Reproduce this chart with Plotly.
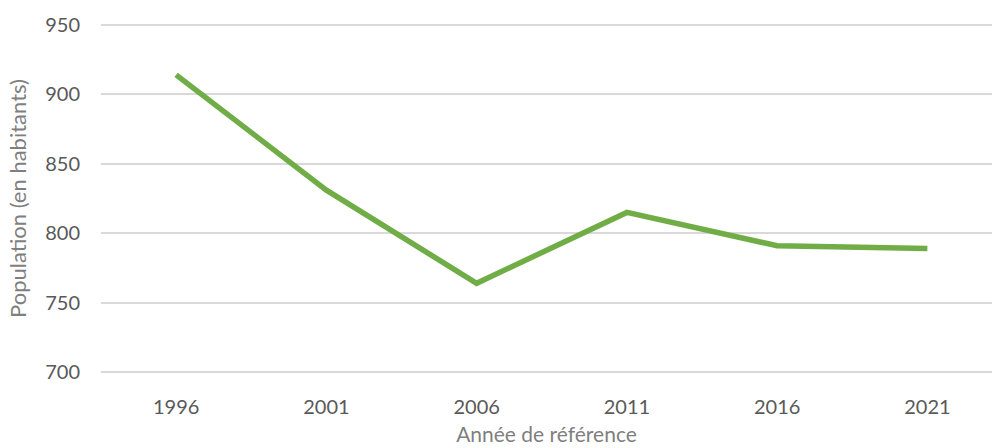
import plotly.graph_objects as go

years = ["1996", "2001", "2006", "2011", "2016", "2021"]
population = [914, 831, 764, 815, 791, 789]
y_ticks = [700, 750, 800, 850, 900, 950]

FONT = "Lato, Carlito, 'Open Sans', sans-serif"

fig = go.Figure()
fig.add_trace(go.Scatter(
    x=years, y=population, mode="lines",
    line=dict(color="#70AD47", width=5.5, shape="linear"),
    hoverinfo="x+y",
))

fig.update_layout(
    width=992, height=448,
    margin=dict(l=101, r=0, t=22, b=73),
    paper_bgcolor="white", plot_bgcolor="white",
    showlegend=False,
    font=dict(family=FONT, color="#595959", size=20),
    xaxis=dict(
        type="category",
        range=[-0.5, 5.43],
        automargin=False,
        showgrid=False, zeroline=False, showline=False,
        ticks="", ticklabelstandoff=18,
        tickfont=dict(size=20, color="#595959"),
        title=dict(text="Année de référence", font=dict(size=21, color="#7F7F7F"), standoff=10),
    ),
    yaxis=dict(
        range=[698, 952],
        tickvals=y_ticks,
        automargin=False,
        showgrid=True, gridcolor="#D9D9D9", gridwidth=1.5,
        zeroline=False, showline=False,
        ticks="", ticklabelstandoff=20,
        tickfont=dict(size=20, color="#595959"),
        title=dict(text="Population (en habitants)", font=dict(size=22, color="#7F7F7F"), standoff=12),
    ),
)

fig.write_html("out.html", config={"displayModeBar": False},
               post_script="document.body.style.margin='0';")
